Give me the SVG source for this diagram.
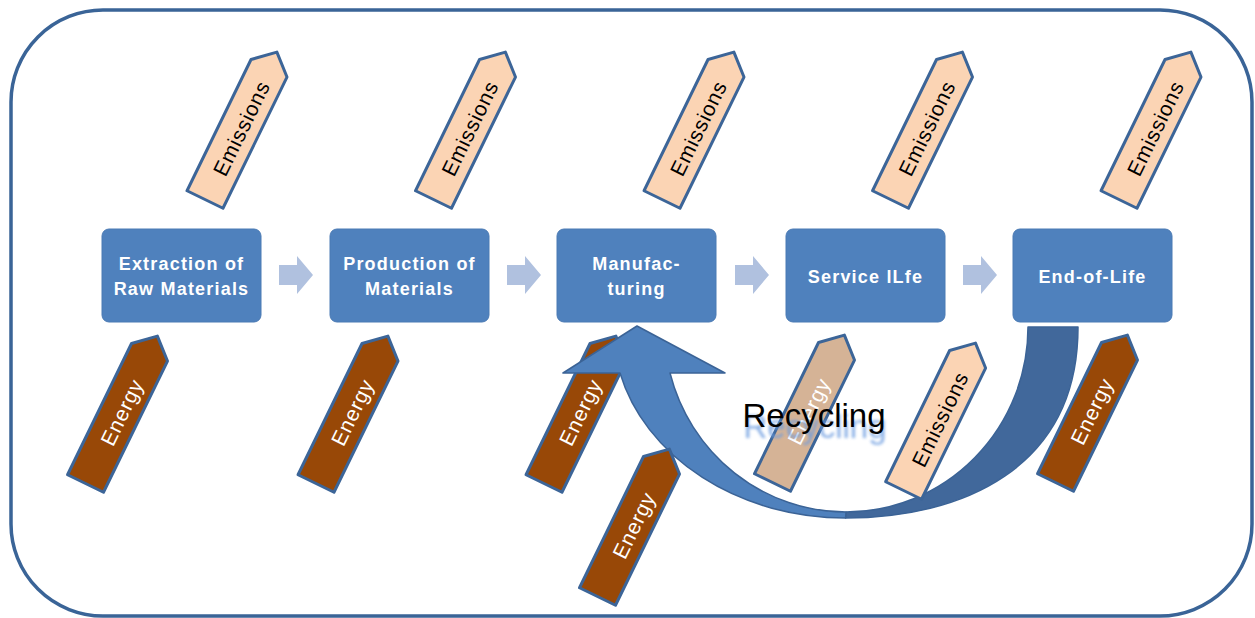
<svg xmlns="http://www.w3.org/2000/svg" width="1255" height="618" viewBox="0 0 1255 618">
<defs>
<style>
.frame{fill:#fff;stroke:#3a6497;stroke-width:3.5}
.box{fill:#4f81bd;stroke:#4a7ab4;stroke-width:1}
.btxt{font-family:"Liberation Sans",Arial,sans-serif;font-weight:bold;font-size:18px;fill:#fff;text-anchor:middle;letter-spacing:1.2px}
.em{fill:#fbd4b4;stroke:#3c6598;stroke-width:3;stroke-linejoin:round}
.en{fill:#984807;stroke:#3c6598;stroke-width:3;stroke-linejoin:round}
.en2{fill:#d5b396;stroke:#3c6598;stroke-width:3;stroke-linejoin:round}
.tem{font-family:"Liberation Sans",Arial,sans-serif;font-size:21px;fill:#000;text-anchor:middle;letter-spacing:0.8px}
.ten{font-family:"Liberation Sans",Arial,sans-serif;font-size:21px;fill:#fff;text-anchor:middle;letter-spacing:0.8px}
.chev{fill:#b0c1df}
.rec-l{fill:#4f81bd;stroke:#3b6396;stroke-width:1.5;stroke-linejoin:round}
.rec-d{fill:#41689b;stroke:#3b6396;stroke-width:1.5;stroke-linejoin:round}
.rtxt{font-family:"Liberation Sans",Arial,sans-serif;font-size:33px;text-anchor:middle}
</style>
<path id="pent" d="M0,-20 H146 L164,0 L146,20 H0 Z"/>
<filter id="blur" x="-20%" y="-50%" width="140%" height="200%"><feGaussianBlur stdDeviation="1.8"/></filter>
</defs>

<rect class="frame" x="11" y="10" width="1241" height="606" rx="92" ry="92"/>

<g id="node-extraction"><rect class="box" x="102" y="229" width="159" height="93" rx="7"/><text class="btxt" x="181.5" y="270">Extraction of</text><text class="btxt" x="181.5" y="295">Raw Materials</text></g>
<g id="node-production"><rect class="box" x="330" y="229" width="159" height="93" rx="7"/><text class="btxt" x="409.5" y="270">Production of</text><text class="btxt" x="409.5" y="295">Materials</text></g>
<g id="node-manufacturing"><rect class="box" x="557" y="229" width="159" height="93" rx="7"/><text class="btxt" x="636.5" y="270">Manufac-</text><text class="btxt" x="636.5" y="295">turing</text></g>
<g id="node-service"><rect class="box" x="786" y="229" width="159" height="93" rx="7"/><text class="btxt" x="865.5" y="283">Service lLfe</text></g>
<g id="node-eol"><rect class="box" x="1013" y="229" width="159" height="93" rx="7"/><text class="btxt" x="1092.5" y="283">End-of-Life</text></g>

<g id="emissions-1" transform="translate(205,199.5) rotate(-64)"><use href="#pent" class="em"/><text class="tem" x="80" y="9">Emissions</text></g>
<g id="emissions-2" transform="translate(433.5,199.5) rotate(-64)"><use href="#pent" class="em"/><text class="tem" x="80" y="9">Emissions</text></g>
<g id="emissions-3" transform="translate(662,199.5) rotate(-64)"><use href="#pent" class="em"/><text class="tem" x="80" y="9">Emissions</text></g>
<g id="emissions-4" transform="translate(890.5,199.5) rotate(-64)"><use href="#pent" class="em"/><text class="tem" x="80" y="9">Emissions</text></g>
<g id="emissions-5" transform="translate(1119,199.5) rotate(-64)"><use href="#pent" class="em"/><text class="tem" x="80" y="9">Emissions</text></g>

<g id="energy-1" transform="translate(85.5,483.5) rotate(-64)"><use href="#pent" class="en"/><text class="ten" x="80" y="9">Energy</text></g>
<g id="energy-2" transform="translate(316,483.5) rotate(-64)"><use href="#pent" class="en"/><text class="ten" x="80" y="9">Energy</text></g>
<g id="energy-3" transform="translate(544,483.5) rotate(-64)"><use href="#pent" class="en"/><text class="ten" x="80" y="9">Energy</text></g>
<g id="energy-service" transform="translate(772.5,482.5) rotate(-64)"><use href="#pent" class="en2"/><text class="ten" x="80" y="9">Energy</text></g>
<g id="energy-eol" transform="translate(1055.5,482.5) rotate(-64)"><use href="#pent" class="en"/><text class="ten" x="80" y="9">Energy</text></g>

<g id="connectors">
<path class="chev" d="M279,265 h18 v-9 l16,19 l-16,19 v-9 h-18 z"/>
<path class="chev" d="M507,265 h18 v-9 l16,19 l-16,19 v-9 h-18 z"/>
<path class="chev" d="M735,265 h18 v-9 l16,19 l-16,19 v-9 h-18 z"/>
<path class="chev" d="M963,265 h18 v-9 l16,19 l-16,19 v-9 h-18 z"/>
<path id="recycling-tail" class="rec-d" d="M845.6,518 C960,518 1078,470 1078,327 L1028,327 A182,185 0 0 1 846,512 Z"/>
<path id="recycling-head" class="rec-l" d="M620,373 A232.4,191 0 0 0 845.6,518 L846,512 A182,185 0 0 1 670,373 L725,373 L637,326 L563,373 Z"/>
</g>

<g id="emissions-eol" transform="translate(903.6,490.5) rotate(-64)"><use href="#pent" class="em"/><text class="tem" x="80" y="9">Emissions</text></g>
<g id="energy-manufacturing" transform="translate(597.5,596.5) rotate(-64)"><use href="#pent" class="en"/><text class="ten" x="80" y="9">Energy</text></g>

<g id="label-recycling">
<text class="rtxt" x="815" y="438" fill="#6b9be0" opacity="0.8" font-size="40" filter="url(#blur)" aria-hidden="true">Recycling</text>
<text class="rtxt" x="814" y="427" fill="#000">Recycling</text>
</g>
</svg>
